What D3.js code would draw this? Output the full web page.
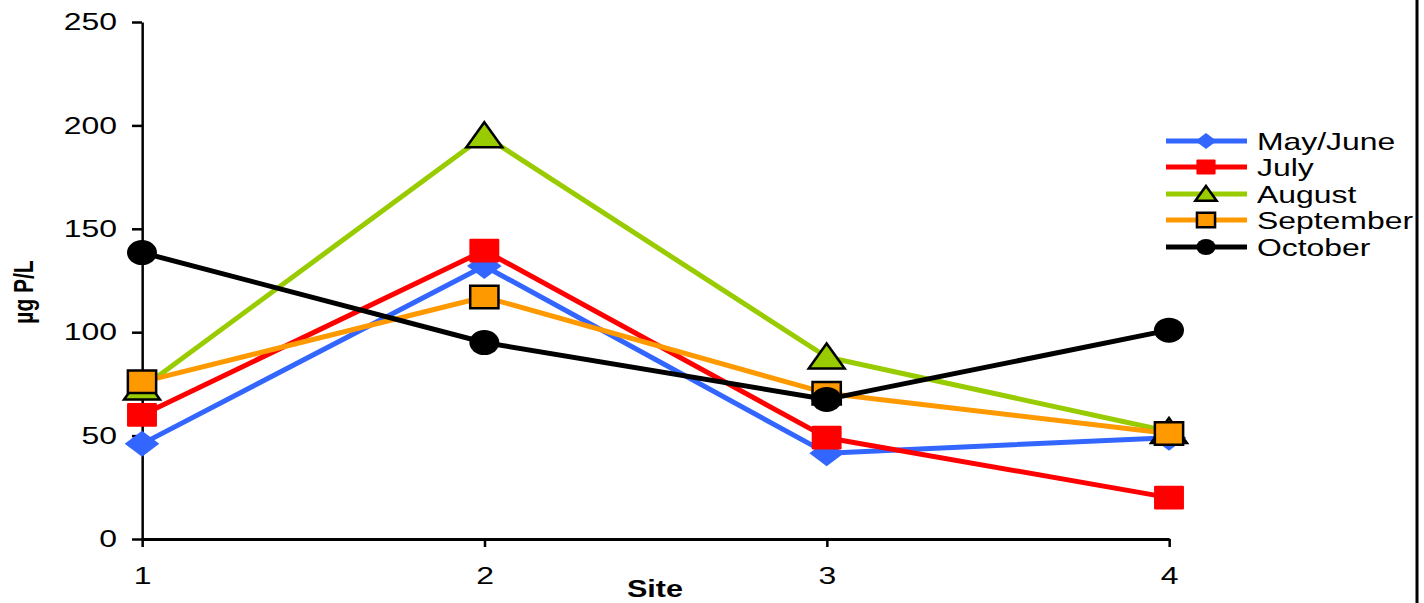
<!DOCTYPE html>
<html><head><meta charset="utf-8">
<script src="https://cdn.jsdelivr.net/npm/d3@7"></script>
<style>
html,body{margin:0;padding:0;background:#fff;}
text{font-family:"Liberation Sans",Arial,sans-serif;}
</style></head>
<body><svg id="c" width="1424" height="603"></svg>
<script>
const sites = [1, 2, 3, 4];
const seriesNames = ["May/June", "July", "August", "September", "October"];
const mayJune = [46, 132, 41.5, 49];
const july = [60, 139.5, 49, 20];
const august = [73, 195, 88, 52];
const september = [76, 117, 70.5, 51];
const october = [138.5, 95, 67.5, 101];
const yTicks = [0, 50, 100, 150, 200, 250];

const colors = ["#3366FF", "#FF0000", "#99CC00", "#FF9900", "#000000"];
const markers = ["diamond", "square", "triangle", "squareOutline", "circle"];
const values = [mayJune, july, august, september, october];

const k = 1.33; // horizontal stretch of the original picture
const svg = d3.select("#c");
svg.append("rect").attr("width",1424).attr("height",603).attr("fill","#fff");
const g = svg.append("g").attr("transform", `scale(${k},1)`);

const x = d3.scaleLinear().domain([1,4]).range([142/k, 1169/k]);
const y = d3.scaleLinear().domain([0,250]).range([539, 22]);

// y axis
const ya = g.append("g").attr("transform", `translate(${142/k},0)`)
  .call(d3.axisLeft(y).tickValues(yTicks).tickSize(10/k).tickSizeOuter(0).tickPadding(15/k));
ya.select(".domain").attr("stroke","#000").attr("stroke-width",2.5).attr("vector-effect","non-scaling-stroke");
ya.selectAll(".tick line").attr("stroke","#000").attr("stroke-width",2.5).attr("vector-effect","non-scaling-stroke");
ya.selectAll(".tick text").attr("font-size","24px").attr("fill","#000").attr("font-family","'Liberation Sans',Arial,sans-serif");

// x axis
const xa = g.append("g").attr("transform", `translate(0,539)`)
  .call(d3.axisBottom(x).tickValues(sites).tickFormat(d3.format("d")).tickSize(8).tickSizeOuter(0).tickPadding(20));
xa.select(".domain").attr("stroke","#000").attr("stroke-width",3).attr("vector-effect","non-scaling-stroke");
xa.selectAll(".tick line").attr("stroke","#000").attr("stroke-width",2.5).attr("vector-effect","non-scaling-stroke");
xa.selectAll(".tick text").attr("font-size","24px").attr("fill","#000").attr("font-family","'Liberation Sans',Arial,sans-serif");

// axis titles
g.append("text").attr("x", 655/k).attr("y", 597).attr("text-anchor","middle")
  .attr("font-weight","bold").attr("font-size","23px").text("Site");
g.append("text").attr("transform", `translate(${33/k},292) rotate(-90)`).attr("text-anchor","middle")
  .attr("font-weight","bold").attr("font-size","21px").text("µg P/L");

// right border
svg.append("line").attr("x1",1417).attr("x2",1417).attr("y1",0).attr("y2",603)
  .attr("stroke","#000").attr("stroke-width",3);

function drawMarker(sel, type, color, s) {
  // s = size (full height) in px
  const h = s/2;
  if (type === "diamond") {
    sel.append("path").attr("d", `M0,${-h} L${h},0 L0,${h} L${-h},0 Z`).attr("fill", color);
  } else if (type === "square") {
    sel.append("rect").attr("x",-h*0.9).attr("y",-h*0.95).attr("width",h*1.8).attr("height",h*1.9).attr("fill",color).attr("rx",1);
  } else if (type === "squareOutline") {
    sel.append("rect").attr("x",-h*0.85).attr("y",-h*0.9).attr("width",h*1.7).attr("height",h*1.8).attr("fill",color)
      .attr("stroke","#000").attr("stroke-width",2.5).attr("vector-effect","non-scaling-stroke");
  } else if (type === "triangle") {
    sel.append("path").attr("d", `M0,${-h} L${h},${h*0.85} L${-h},${h*0.85} Z`).attr("fill",color)
      .attr("stroke","#000").attr("stroke-width",2.5).attr("stroke-linejoin","miter").attr("vector-effect","non-scaling-stroke");
  } else if (type === "circle") {
    sel.append("ellipse").attr("rx", h*0.9).attr("ry", h).attr("fill", color);
  }
}

const line = d3.line().x((d,i)=>x(sites[i])).y(d=>y(d));
const mSize = [26, 25, 27, 25, 25];

values.forEach((vals, si) => {
  const sg = g.append("g");
  sg.append("path").datum(vals).attr("d", line).attr("fill","none")
    .attr("stroke", colors[si]).attr("stroke-width",5).attr("stroke-linejoin","round")
    .attr("vector-effect","non-scaling-stroke");
  vals.forEach((v,i) => {
    const mg = sg.append("g").attr("transform", `translate(${x(sites[i])},${y(v)})`);
    drawMarker(mg, markers[si], colors[si], mSize[si]);
  });
});

// legend
const legY = [141, 167, 194, 220, 247];
const lg = g.append("g");
seriesNames.forEach((name, si) => {
  const row = lg.append("g").attr("transform", `translate(0,${legY[si]})`);
  row.append("line").attr("x1",1166/k).attr("x2",1247/k).attr("y1",0).attr("y2",0)
    .attr("stroke",colors[si]).attr("stroke-width",5).attr("vector-effect","non-scaling-stroke");
  const mg = row.append("g").attr("transform", `translate(${1206/k},0)`);
  drawMarker(mg, markers[si], colors[si], 16);
  row.append("text").attr("x",1257/k).attr("y",0).attr("dy","0.36em")
    .attr("font-size","24px").attr("fill","#000").text(name);
});
</script></body></html>
